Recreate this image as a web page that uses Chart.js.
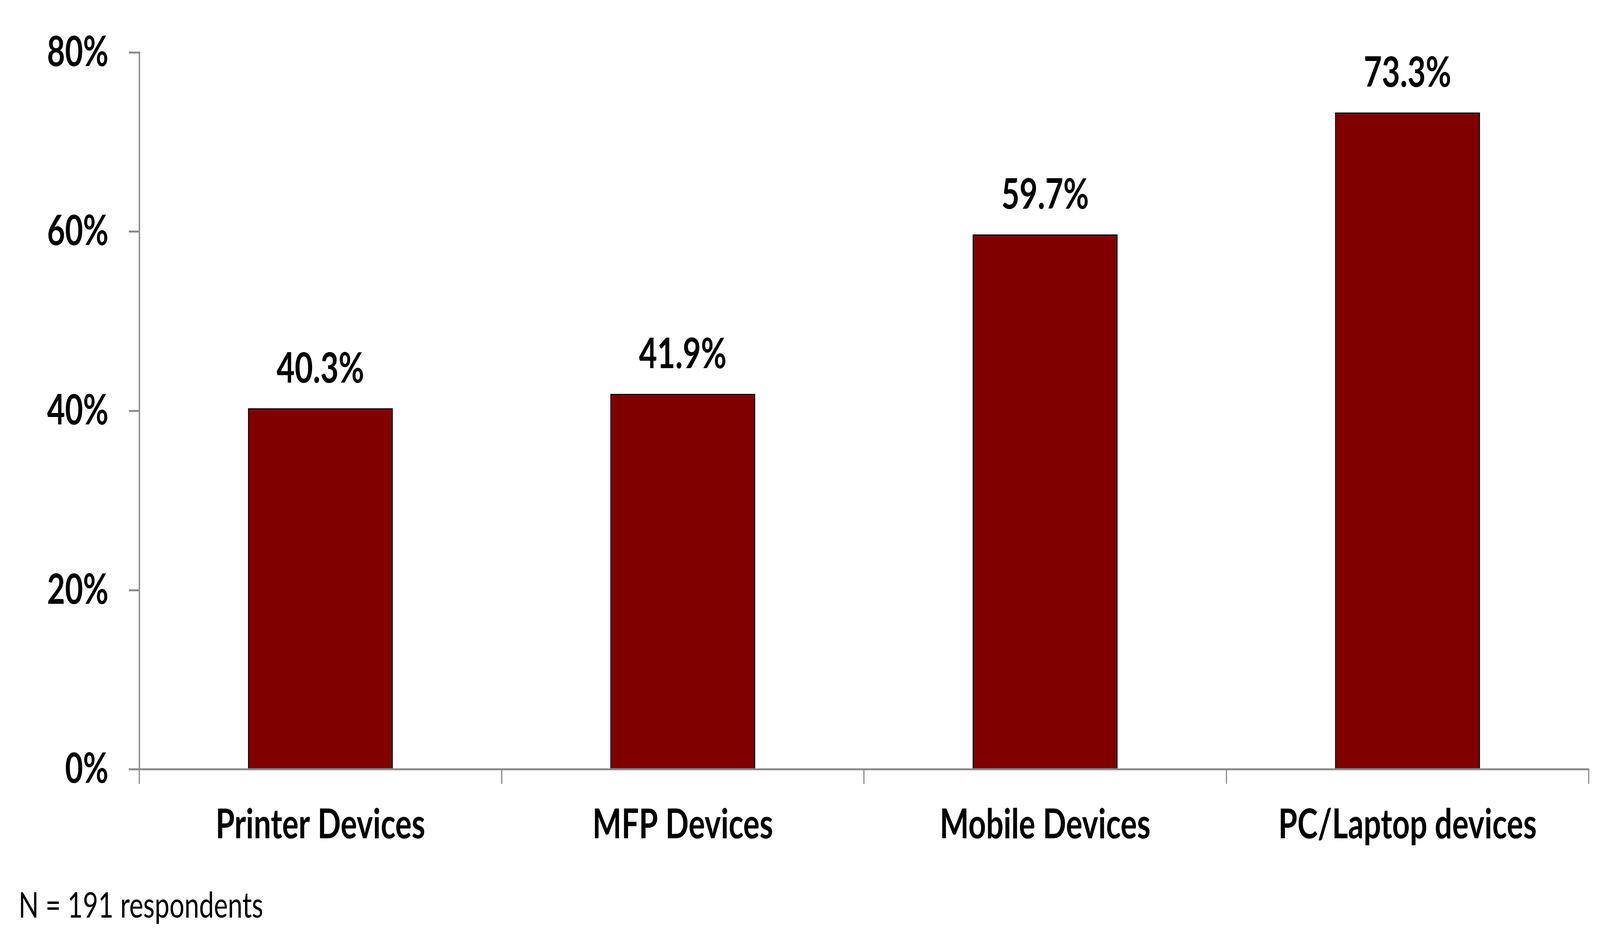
<!DOCTYPE html>
<html>
<head>
<meta charset="utf-8">
<script src="https://cdn.jsdelivr.net/npm/chart.js@4.4.1/dist/chart.umd.min.js"></script>
<style>
  html, body { margin: 0; padding: 0; background: #fff; overflow: hidden; }
  #devicesChart { width: 100vw; height: 100vh; }
</style>
</head>
<body>
<canvas id="devicesChart" width="5517" height="2436" style="width:100vw;height:100vh"></canvas>
<script>
// data
const categories = ["Printer Devices", "MFP Devices", "Mobile Devices", "PC/Laptop devices"];
const shares = [40.3, 41.9, 59.7, 73.3];
const yTicks = [0, 20, 40, 60, 80];
const note = "N = 191 respondents";

const axisGrey = "#8c8c8c";

// write the value above every bar
const barValues = {
  id: "barValues",
  afterDatasetsDraw(chart) {
    const ctx = chart.ctx;
    const meta = chart.getDatasetMeta(0);
    ctx.save();
    ctx.font = "bold 108px Lato";
    ctx.fillStyle = "#000";
    ctx.textAlign = "center";
    ctx.textBaseline = "alphabetic";
    meta.data.forEach((bar, i) => {
      ctx.fillText(shares[i].toFixed(1) + "%", bar.x, bar.y - 66);
    });
    ctx.restore();
  }
};

// canvas is drawn at 5517x2436 and fitted to the window by css
new Chart("devicesChart", {
  type: "bar",
  data: {
    labels: categories,
    datasets: [{
      data: shares,
      backgroundColor: "#800000",
      borderColor: "#000",
      borderWidth: 4,
      categoryPercentage: 1,
      barPercentage: 0.4
    }]
  },
  options: {
    responsive: false,
    devicePixelRatio: 1,
    animation: false,
    layout: { padding: { left: 64, right: 39, top: 90, bottom: 0 } },
    plugins: {
      legend: { display: false },
      tooltip: { enabled: false },
      title: {
        display: true,
        text: note,
        position: "bottom",
        align: "start",
        color: "#000",
        font: { family: "Lato", size: 91, weight: "normal", lineHeight: 1.2 },
        padding: { top: 47, bottom: 63 }
      }
    },
    scales: {
      x: {
        grid: {
          offset: true,
          drawOnChartArea: false,
          drawTicks: true,
          tickLength: 37,
          color: axisGrey,
          lineWidth: 4
        },
        border: { color: axisGrey, width: 5 },
        ticks: {
          color: "#000",
          padding: 42,
          maxRotation: 0,
          font: { family: "Lato", size: 106, weight: "bold", lineHeight: 1.2 }
        }
      },
      y: {
        min: 0,
        max: 80,
        afterBuildTicks(scale) {
          scale.ticks = yTicks.map(v => ({ value: v }));
        },
        afterFit(scale) {
          scale.width = 416;
        },
        grid: {
          drawOnChartArea: false,
          drawTicks: true,
          tickLength: 36,
          color: axisGrey,
          lineWidth: 5
        },
        border: { color: axisGrey, width: 5 },
        ticks: {
          color: "#000",
          padding: 70,
          font: { family: "Lato", size: 107, weight: "bold" },
          callback: v => v + "%"
        }
      }
    }
  },
  plugins: [barValues]
});
</script>
</body>
</html>
